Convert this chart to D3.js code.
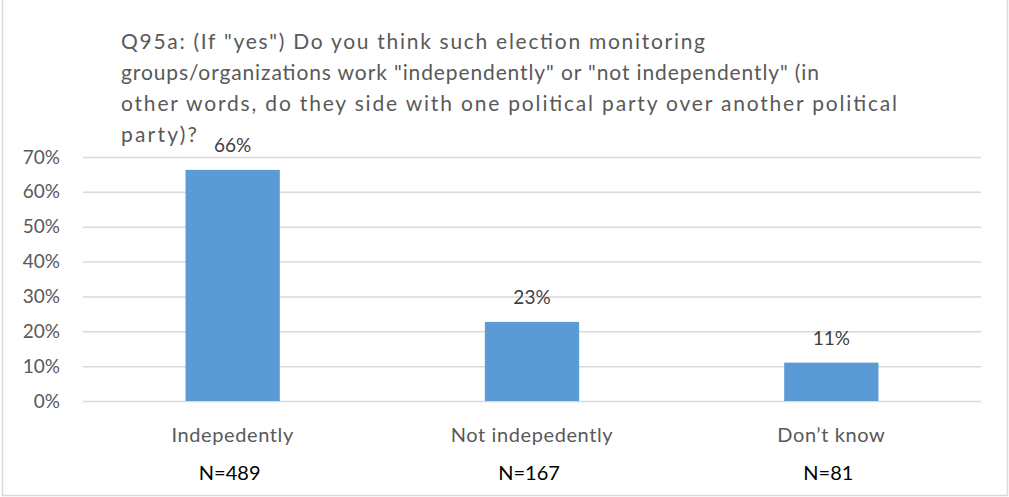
<!DOCTYPE html>
<html>
<head>
<meta charset="utf-8">
<script src="https://cdn.jsdelivr.net/npm/d3@7"></script>
<style>
  body { margin: 0; background: #fff; }
  text { font-family: Lato, "Open Sans", sans-serif; }
</style>
</head>
<body>
<div id="chart"></div>
<script>
var titleLines = [
  'Q95a: (If "yes") Do you think such election monitoring',
  'groups/organizations work "independently" or "not independently" (in',
  'other words, do they side with one political party over another political',
  'party)?'
];
var titleWidths = [584, 698, 776, 76];

var categories = ['Indepedently', 'Not indepedently', 'Don\u2019t know'];
var shares = [0.663, 0.227, 0.11];
var counts = [489, 167, 81];
var tickValues = [0, 0.1, 0.2, 0.3, 0.4, 0.5, 0.6, 0.7];

var w = 1009;
var h = 497;
var plotLeft = 83, plotRight = 981, plotTop = 157, plotBottom = 401;

var svg = d3.select('#chart').append('svg')
  .attr('width', w)
  .attr('height', h);

svg.append('rect')
  .attr('x', 2.5).attr('y', -5)
  .attr('width', 1005).attr('height', 500.5)
  .attr('fill', '#fff')
  .attr('stroke', '#d9d9d9')
  .attr('stroke-width', 1.5);

// title
svg.append('g').selectAll('text')
  .data(titleLines)
  .enter().append('text')
  .attr('x', 121)
  .attr('y', function (d, i) { return 49 + i * 31; })
  .attr('textLength', function (d, i) { return titleWidths[i]; })
  .attr('lengthAdjust', 'spacing')
  .attr('font-size', 21)
  .attr('fill', '#595959')
  .text(function (d) { return d; });

var x = d3.scaleBand().domain(categories).range([plotLeft, plotRight]);
var y = d3.scaleLinear().domain([0, 0.7]).range([plotBottom, plotTop]);

// gridlines
svg.append('g').selectAll('line')
  .data(tickValues)
  .enter().append('line')
  .attr('x1', plotLeft).attr('x2', plotRight)
  .attr('y1', function (d) { return y(d) + 0.5; })
  .attr('y2', function (d) { return y(d) + 0.5; })
  .attr('stroke', '#d9d9d9')
  .attr('stroke-width', 1.5);

var yAxis = d3.axisLeft(y).tickValues(tickValues).tickFormat(d3.format('.0%')).tickSize(0).tickPadding(0);
var ya = svg.append('g').attr('transform', 'translate(60,0)').call(yAxis);
ya.select('.domain').remove();
ya.selectAll('text')
  .attr('font-size', 19)
  .attr('font-family', 'Lato, sans-serif')
  .attr('fill', '#595959');

var barW = x.bandwidth() * 0.315;

svg.append('g').selectAll('rect')
  .data(shares)
  .enter().append('rect')
  .attr('x', function (d, i) { return x(categories[i]) + x.bandwidth() / 2 - barW / 2; })
  .attr('y', function (d) { return y(d); })
  .attr('width', barW)
  .attr('height', function (d) { return y(0) - y(d); })
  .attr('fill', '#5b9bd5');

svg.append('g').selectAll('text')
  .data(shares)
  .enter().append('text')
  .attr('x', function (d, i) { return x(categories[i]) + x.bandwidth() / 2; })
  .attr('y', function (d) { return y(d) - 18; })
  .attr('text-anchor', 'middle')
  .attr('font-size', 19)
  .attr('fill', '#404040')
  .text(function (d) { return d3.format('.0%')(d); });

svg.append('g').selectAll('text')
  .data(categories)
  .enter().append('text')
  .attr('x', function (d) { return x(d) + x.bandwidth() / 2; })
  .attr('y', 442)
  .attr('text-anchor', 'middle')
  .attr('font-size', 20)
  .attr('letter-spacing', 0.6)
  .attr('fill', '#595959')
  .text(function (d) { return d; });

svg.append('g').selectAll('text')
  .data(counts)
  .enter().append('text')
  .attr('x', function (d, i) { return x(categories[i]) + x.bandwidth() / 2 - 3; })
  .attr('y', 480)
  .attr('text-anchor', 'middle')
  .attr('font-size', 20)
  .attr('fill', '#000')
  .text(function (d) { return 'N=' + d; });
</script>
</body>
</html>
